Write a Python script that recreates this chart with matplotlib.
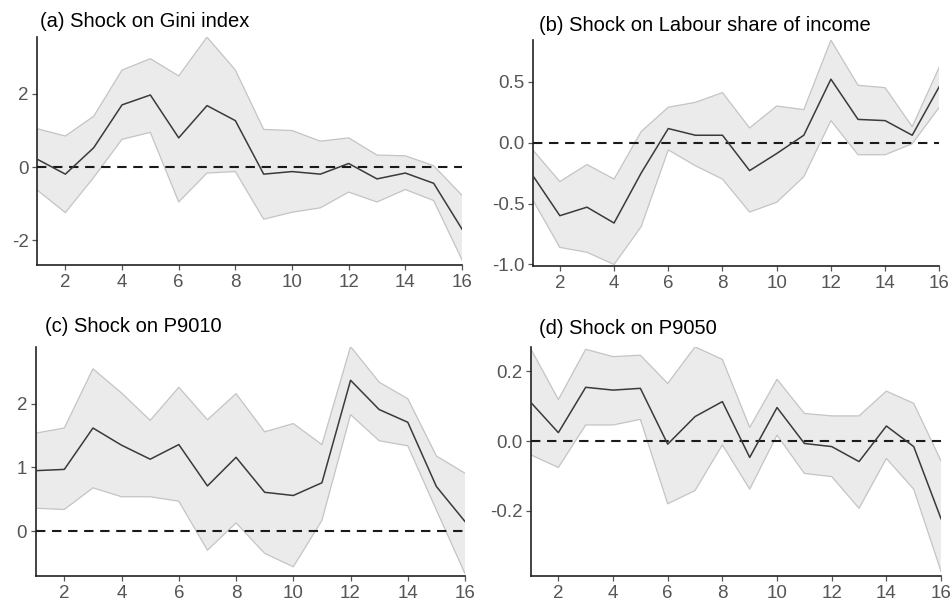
import numpy as np
import matplotlib
matplotlib.use("Agg")
import matplotlib.pyplot as plt
from matplotlib.ticker import FormatStrFormatter

plt.rcParams['font.family'] = ['Liberation Sans', 'DejaVu Sans']
plt.rcParams['axes.unicode_minus'] = False

### horizons
horizon = np.arange(1, 17)

### (a) Gini
gini_irf = [0.22, -0.19, 0.53, 1.70, 1.97, 0.80, 1.68, 1.27, -0.19, -0.12, -0.19, 0.10, -0.32, -0.16, -0.44, -1.69]
gini_hi = [1.05, 0.85, 1.39, 2.65, 2.96, 2.49, 3.55, 2.65, 1.03, 1.00, 0.71, 0.80, 0.33, 0.31, 0.04, -0.77]
gini_lo = [-0.62, -1.24, -0.28, 0.76, 0.95, -0.95, -0.16, -0.12, -1.42, -1.23, -1.11, -0.68, -0.95, -0.61, -0.91, -2.53]

### (b) Labour share
labour_irf = [-0.27, -0.60, -0.53, -0.66, -0.25, 0.115, 0.06, 0.06, -0.23, -0.09, 0.06, 0.52, 0.19, 0.18, 0.06, 0.46]
labour_hi = [-0.06, -0.32, -0.18, -0.30, 0.09, 0.29, 0.33, 0.41, 0.12, 0.30, 0.27, 0.84, 0.47, 0.45, 0.13, 0.62]
labour_lo = [-0.47, -0.86, -0.90, -1.00, -0.69, -0.06, -0.19, -0.30, -0.57, -0.49, -0.28, 0.18, -0.10, -0.10, -0.01, 0.29]

### (c) P9010
p9010_irf = [0.95, 0.97, 1.62, 1.35, 1.13, 1.36, 0.71, 1.16, 0.61, 0.56, 0.76, 2.37, 1.91, 1.71, 0.70, 0.15]
p9010_hi = [1.54, 1.62, 2.55, 2.17, 1.74, 2.26, 1.75, 2.16, 1.56, 1.69, 1.36, 2.90, 2.34, 2.08, 1.18, 0.91]
p9010_lo = [0.36, 0.34, 0.68, 0.54, 0.54, 0.47, -0.30, 0.13, -0.35, -0.56, 0.17, 1.83, 1.42, 1.34, 0.33, -0.67]

### (d) P9050
p9050_irf = [0.11, 0.024, 0.154, 0.146, 0.151, -0.009, 0.07, 0.113, -0.047, 0.096, -0.007, -0.016, -0.059, 0.043, -0.016, -0.223]
p9050_hi = [0.263, 0.119, 0.263, 0.242, 0.246, 0.165, 0.27, 0.234, 0.039, 0.177, 0.079, 0.072, 0.072, 0.143, 0.108, -0.057]
p9050_lo = [-0.04, -0.076, 0.046, 0.046, 0.062, -0.18, -0.142, -0.011, -0.138, 0.017, -0.093, -0.102, -0.193, -0.05, -0.138, -0.374]

titres = ["(a) Shock on Gini index", "(b) Shock on Labour share of income",
          "(c) Shock on P9010", "(d) Shock on P9050"]

fig = plt.figure(figsize=(9.52, 6.03), dpi=100)

### positions des panneaux (left, bottom, width, height)
panneaux = [
    ([0.0389, 0.5605, 0.4464, 0.3780], gini_irf, gini_hi, gini_lo, (-2.67, 3.55), [-2, 0, 2], None, 0.006, 7.2),
    ([0.5596, 0.5594, 0.4271, 0.3750], labour_irf, labour_hi, labour_lo, (-1.01, 0.845), [-1.0, -0.5, 0.0, 0.5], '%.1f', 0.016, 6.5),
    ([0.0375, 0.0453, 0.4510, 0.3800], p9010_irf, p9010_hi, p9010_lo, (-0.70, 2.90), [0, 1, 2], None, 0.021, 10.3),
    ([0.5578, 0.0448, 0.4307, 0.3800], p9050_irf, p9050_hi, p9050_lo, (-0.387, 0.27), [-0.2, 0.0, 0.2], '%.1f', 0.020, 9.6),
]

for titre, (pos, irf, hi, lo, ylim, yt, fmt, tx, tpad) in zip(titres, panneaux):
    ax = fig.add_axes(pos)
    ax.fill_between(horizon, lo, hi, facecolor='#ebebeb', edgecolor='none', zorder=1)
    ax.plot(horizon, hi, color='#c4c4c4', lw=0.9, zorder=2)
    ax.plot(horizon, lo, color='#c4c4c4', lw=0.9, zorder=2)
    ax.axhline(0, color='#1a1a1a', lw=1.5, ls=(0, (4.5, 3.2)), zorder=3)
    ax.plot(horizon, irf, color='#3a3a3a', lw=1.1, zorder=4)

    ax.set_xlim(1, 16)
    ax.set_ylim(*ylim)
    ax.set_xticks([2, 4, 6, 8, 10, 12, 14, 16])
    ax.set_yticks(yt)
    if fmt:
        ax.yaxis.set_major_formatter(FormatStrFormatter(fmt))

    for s in ['top', 'right']:
        ax.spines[s].set_visible(False)
    for s in ['left', 'bottom']:
        ax.spines[s].set_color('#222222')
        ax.spines[s].set_linewidth(1.2)
    ax.tick_params(axis='both', direction='out', length=3.6, width=0.9, color='#555555',
                   labelcolor='#555555', labelsize=13.5, pad=2.5)
    ax.tick_params(axis='x', pad=3)
    ax.set_title(titre, loc='left', x=tx, pad=tpad, fontsize=14.5, color='black')

fig.savefig("out.png", dpi=100)
